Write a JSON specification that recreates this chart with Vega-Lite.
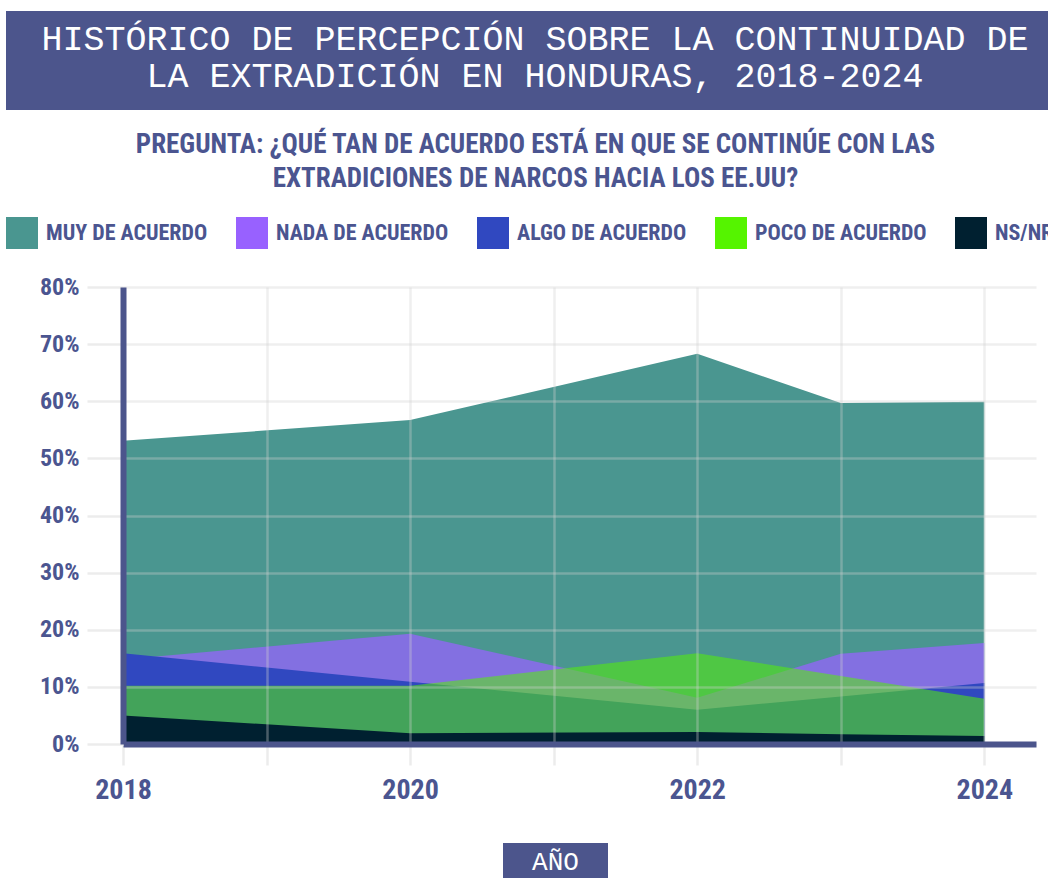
{
  "$schema": "https://vega.github.io/schema/vega-lite/v6.json",
  "padding": {"left": 6, "top": 11, "right": 0, "bottom": 0},
  "background": "white",
  "config": {"view": {"stroke": null}},
  "spacing": 21,
  "bounds": "full",
  "resolve": {"legend": {"color": "independent"}},
  "vconcat": [
    {
      "width": 913,
      "height": 99,
      "data": {"values": [{"titulo": "HISTÓRICO DE PERCEPCIÓN SOBRE LA CONTINUIDAD DE\nLA EXTRADICIÓN EN HONDURAS, 2018-2024"}]},
      "encoding": {
        "x": {"field": "titulo", "type": "nominal", "axis": null,
              "scale": {"range": [-117, 925], "paddingInner": 0, "paddingOuter": 0}}
      },
      "layer": [
        {"mark": {"type": "bar", "color": "#4c558c"}},
        {"mark": {"type": "text", "font": "Liberation Mono", "fontSize": 35, "color": "white", "lineBreak": "\n", "lineHeight": 37, "baseline": "middle", "align": "center", "dx": 8, "dy": -22},
         "encoding": {"text": {"field": "titulo", "type": "nominal"}}}
      ]
    },
    {
      "width": 913,
      "height": 457,
      "title": {
        "text": ["PREGUNTA: ¿QUÉ TAN DE ACUERDO ESTÁ EN QUE SE CONTINÚE CON LAS", "EXTRADICIONES DE NARCOS HACIA LOS EE.UU?"],
        "anchor": "middle",
        "frame": "group",
        "dx": -44,
        "font": "Roboto Condensed, Liberation Sans Narrow, DejaVu Sans Condensed, sans-serif",
        "fontSize": 27,
        "fontWeight": "bold",
        "color": "#4b5590",
        "lineHeight": 34,
        "offset": 24
      },
      "data": {"values": [
        {"anio": 2018, "serie": "MUY DE ACUERDO", "valor": 0.531},
        {"anio": 2020, "serie": "MUY DE ACUERDO", "valor": 0.567},
        {"anio": 2022, "serie": "MUY DE ACUERDO", "valor": 0.683},
        {"anio": 2023, "serie": "MUY DE ACUERDO", "valor": 0.597},
        {"anio": 2024, "serie": "MUY DE ACUERDO", "valor": 0.599},
        {"anio": 2018, "serie": "NADA DE ACUERDO", "valor": 0.148},
        {"anio": 2020, "serie": "NADA DE ACUERDO", "valor": 0.193},
        {"anio": 2022, "serie": "NADA DE ACUERDO", "valor": 0.081},
        {"anio": 2023, "serie": "NADA DE ACUERDO", "valor": 0.158},
        {"anio": 2024, "serie": "NADA DE ACUERDO", "valor": 0.177},
        {"anio": 2018, "serie": "ALGO DE ACUERDO", "valor": 0.159},
        {"anio": 2020, "serie": "ALGO DE ACUERDO", "valor": 0.109},
        {"anio": 2022, "serie": "ALGO DE ACUERDO", "valor": 0.060},
        {"anio": 2023, "serie": "ALGO DE ACUERDO", "valor": 0.083},
        {"anio": 2024, "serie": "ALGO DE ACUERDO", "valor": 0.107},
        {"anio": 2018, "serie": "POCO DE ACUERDO", "valor": 0.102},
        {"anio": 2020, "serie": "POCO DE ACUERDO", "valor": 0.102},
        {"anio": 2022, "serie": "POCO DE ACUERDO", "valor": 0.159},
        {"anio": 2023, "serie": "POCO DE ACUERDO", "valor": 0.119},
        {"anio": 2024, "serie": "POCO DE ACUERDO", "valor": 0.079},
        {"anio": 2018, "serie": "NS/NR", "valor": 0.050},
        {"anio": 2020, "serie": "NS/NR", "valor": 0.019},
        {"anio": 2022, "serie": "NS/NR", "valor": 0.021},
        {"anio": 2023, "serie": "NS/NR", "valor": 0.017},
        {"anio": 2024, "serie": "NS/NR", "valor": 0.014}
      ]},
      "encoding": {
        "x": {
          "field": "anio", "type": "quantitative",
          "scale": {"domain": [2018, 2024.36], "nice": false, "zero": false},
          "axis": {
            "title": null,
            "values": [2018, 2019, 2020, 2021, 2022, 2023, 2024],
            "format": "d",
            "labelExpr": "datum.value % 2 === 0 ? datum.label : ''",
            "labelFlush": false,
            "labelOverlap": false,
            "labelFont": "Roboto Condensed, Liberation Sans Narrow, DejaVu Sans Condensed, sans-serif",
            "labelFontSize": 28,
            "labelFontWeight": "bold",
            "labelColor": "#4b5590",
            "labelPadding": 11,
            "domainColor": "#4c558c",
            "domainWidth": 6,
            "tickColor": "#ececec",
            "tickWidth": 2.5,
            "tickSize": 21,
            "grid": true,
            "gridColor": "#d0d0d0",
            "gridOpacity": 0.35,
            "gridWidth": 2.5,
            "zindex": 1
          }
        },
        "y": {
          "field": "valor", "type": "quantitative", "stack": null,
          "scale": {"domain": [0, 0.8], "nice": false},
          "axis": {
            "title": null,
            "values": [0, 0.1, 0.2, 0.3, 0.4, 0.5, 0.6, 0.7, 0.8],
            "format": ".0%",
            "labelFont": "Roboto Condensed, Liberation Sans Narrow, DejaVu Sans Condensed, sans-serif",
            "labelFontSize": 24,
            "labelFontWeight": "bold",
            "labelColor": "#4b5590",
            "labelPadding": 8,
            "labelFlush": false,
            "domainColor": "#4c558c",
            "domainWidth": 6,
            "tickColor": "#ececec",
            "tickWidth": 2.5,
            "tickSize": 36,
            "grid": true,
            "gridColor": "#d0d0d0",
            "gridOpacity": 0.35,
            "gridWidth": 2.5,
            "zindex": 1
          }
        },
        "color": {
          "field": "serie", "type": "nominal",
          "scale": {
            "domain": ["MUY DE ACUERDO", "NADA DE ACUERDO", "ALGO DE ACUERDO", "POCO DE ACUERDO", "NS/NR"],
            "range": ["#4a9690", "#9861ff", "#3048c0", "#55f400", "#002030"]
          },
          "legend": {
            "title": null,
            "orient": "none",
            "legendX": -117,
            "legendY": -70,
            "direction": "horizontal",
            "symbolType": "square",
            "symbolSize": 1024,
            "symbolStrokeWidth": 0,
            "symbolOpacity": 1,
            "labelFont": "Roboto Condensed, Liberation Sans Narrow, DejaVu Sans Condensed, sans-serif",
            "labelFontSize": 22,
            "labelFontWeight": "bold",
            "labelColor": "#4b5590",
            "labelOffset": 8,
            "labelLimit": 400,
            "columnPadding": 28,
            "encode": {
              "symbols": {
                "update": {
                  "fill": {"signal": "datum.value === 'MUY DE ACUERDO' ? '#7ab0ab' : datum.value === 'NADA DE ACUERDO' ? '#b48cff' : datum.value === 'ALGO DE ACUERDO' ? '#3048c0' : datum.value === 'POCO DE ACUERDO' ? '#a0f070' : '#002030'"},
                  "opacity": {"value": 1},
                  "fillOpacity": {"value": 1}
                }
              }
            }
          }
        }
      },
      "layer": [
        {"transform": [{"filter": "datum.serie === 'MUY DE ACUERDO'"}], "mark": {"type": "area", "opacity": 1, "interpolate": "linear"}},
        {"transform": [{"filter": "datum.serie === 'NADA DE ACUERDO'"}], "mark": {"type": "area", "opacity": 0.73, "interpolate": "linear"}},
        {"transform": [{"filter": "datum.serie === 'ALGO DE ACUERDO'"}], "mark": {"type": "area", "opacity": 1, "interpolate": "linear"}},
        {"transform": [{"filter": "datum.serie === 'POCO DE ACUERDO'"}], "mark": {"type": "area", "opacity": 0.53, "interpolate": "linear"}},
        {"transform": [{"filter": "datum.serie === 'NS/NR'"}], "mark": {"type": "area", "opacity": 1, "interpolate": "linear"}}
      ]
    },
    {
      "width": 913,
      "height": 55,
      "data": {"values": [{"eje": "AÑO"}]},
      "encoding": {
        "x": {"field": "eje", "type": "nominal", "axis": null,
              "scale": {"range": [380, 485], "paddingInner": 0, "paddingOuter": 0}},
        "y": {"field": "eje", "type": "nominal", "axis": null,
              "scale": {"range": [18, 55], "paddingInner": 0, "paddingOuter": 0}}
      },
      "layer": [
        {"mark": {"type": "bar", "color": "#4c558c"}},
        {"mark": {"type": "text", "font": "Liberation Mono", "fontSize": 26, "color": "white", "baseline": "middle"},
         "encoding": {"text": {"field": "eje", "type": "nominal"}}}
      ]
    }
  ]
}
